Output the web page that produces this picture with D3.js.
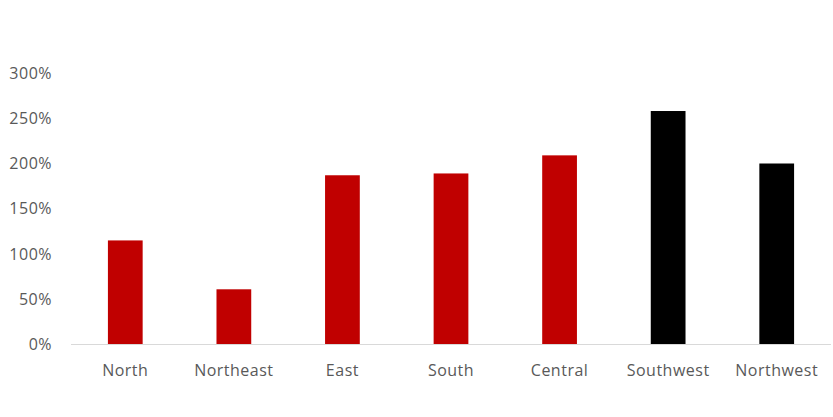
<!DOCTYPE html>
<html><head><meta charset="utf-8">
<script src="https://cdn.jsdelivr.net/npm/d3@7"></script>
<style>body{margin:0;background:#fff}svg{display:block}</style>
</head><body>
<svg id="c" width="833" height="417"></svg>
<script>
const categories = ["North","Northeast","East","South","Central","Southwest","Northwest"];
const values = [1.15, 0.61, 1.87, 1.89, 2.09, 2.58, 2.00];
const barColors = ["#C00000","#C00000","#C00000","#C00000","#C00000","#000000","#000000"];
const yTicks = [0, 0.5, 1, 1.5, 2, 2.5, 3];

const svg = d3.select("#c");
const x = d3.scaleBand().domain(categories).range([71, 831]).paddingInner(0.68).paddingOuter(0.34);
const y = d3.scaleLinear().domain([0, 3]).range([344.5, 73]);

const font = "'Open Sans', sans-serif";
svg.append("g").selectAll("text").data(yTicks).join("text")
  .attr("x", 52).attr("y", d => y(d)).attr("dy", "0.35em")
  .attr("text-anchor", "end").attr("fill", "#595959")
  .style("font-family", font).style("font-size", "16px").style("letter-spacing","0.5px")
  .text(d => d3.format(".0%")(d));

svg.append("g").selectAll("rect").data(values).join("rect")
  .attr("x", (d,i) => x(categories[i])).attr("width", x.bandwidth())
  .attr("y", d => y(d)).attr("height", d => y(0) - y(d))
  .attr("fill", (d,i) => barColors[i]);

svg.append("line").attr("x1", 71).attr("x2", 831).attr("y1", y(0)).attr("y2", y(0))
  .attr("stroke", "#D9D9D9").attr("stroke-width", 1);

svg.append("g").selectAll("text").data(categories).join("text")
  .attr("x", d => x(d) + x.bandwidth()/2).attr("y", 370).attr("dy", "0.35em")
  .attr("text-anchor", "middle").attr("fill", "#595959")
  .style("font-family", font).style("font-size", "16px").style("letter-spacing","0.5px")
  .text(d => d);
</script>
</body></html>
